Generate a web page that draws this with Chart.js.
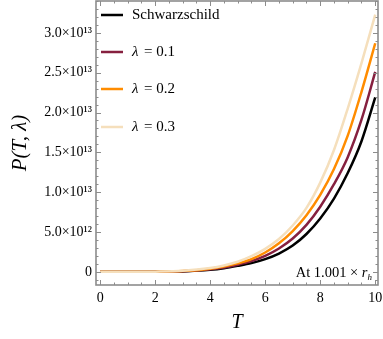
<!DOCTYPE html>
<html>
<head>
<meta charset="utf-8">
<script src="https://cdn.jsdelivr.net/npm/chart.js@4"></script>
<style>
  html, body { margin: 0; padding: 0; background: #fff; }
  #wrap { width: 383px; height: 339px; }
</style>
</head>
<body>
<div id="wrap"><canvas id="chart" width="383" height="339"></canvas></div>
<script>
// temperature values
const T = [0, 1, 2, 3, 4, 4.5, 5, 5.5, 6, 6.5, 7, 7.5, 8, 8.5, 9, 9.5, 10];
// P(T, lambda)
const schwarzschild = [0, 0, 0.01e12, 0.06e12, 0.25e12, 0.45e12, 0.75e12, 1.1e12, 1.6e12, 2.3e12, 3.3e12, 4.75e12, 6.7e12, 9.2e12, 12.4e12, 16.4e12, 21.9e12];
const lambda01 = [0, 0, 0.015e12, 0.08e12, 0.33e12, 0.56e12, 0.9e12, 1.35e12, 2.0e12, 2.93e12, 4.18e12, 5.89e12, 8.18e12, 11.0e12, 14.4e12, 19.1e12, 25.1e12];
const lambda02 = [0, 0, 0.02e12, 0.1e12, 0.4e12, 0.68e12, 1.07e12, 1.6e12, 2.43e12, 3.58e12, 5.12e12, 7.11e12, 9.66e12, 12.9e12, 17.1e12, 22.6e12, 28.7e12];
const lambda03 = [0, 0, 0.025e12, 0.13e12, 0.48e12, 0.8e12, 1.27e12, 1.97e12, 2.89e12, 4.12e12, 5.82e12, 8.03e12, 11.2e12, 15.3e12, 20.5e12, 26.2e12, 32.3e12];

const xTicks = [0, 2, 4, 6, 8, 10];
const yTicks = [0, 5e12, 10e12, 15e12, 20e12, 25e12, 30e12];

const seriesNames = ["Schwarzschild", "0.1", "0.2", "0.3"];
const seriesColors = ["#000000", "#86203f", "#ff8c00", "#f5dfbc"];
const seriesData = [schwarzschild, lambda01, lambda02, lambda03];

const serif = "'Liberation Serif', 'DejaVu Serif', serif";

function yLabel(v) {
    if (v === 0) return "0";
    if (Math.abs(v - 5e12) < 1) return "5.0\u00d710\u00b9\u00b2";
    return (v / 1e13).toFixed(1) + "\u00d710\u00b9\u00b3";
}

// frame, inward ticks, legend and note
const framePlugin = {
    id: "frame",
    afterDatasetsDraw(chart) {
        const ctx = chart.ctx;
        const a = chart.chartArea;
        const xs = chart.scales.x;
        const ys = chart.scales.y;
        ctx.save();
        ctx.strokeStyle = "#8c8c8c";
        ctx.lineWidth = 1;
        ctx.beginPath();
        for (let i = 0; i <= 20; i++) {
            const v = i * 0.5;
            const px = Math.round(xs.getPixelForValue(v)) + 0.5;
            const len = (i % 4 === 0) ? 5 : 2.5;
            ctx.moveTo(px, a.bottom); ctx.lineTo(px, a.bottom - len);
            ctx.moveTo(px, a.top); ctx.lineTo(px, a.top + len);
        }
        for (let i = -1; i <= 34; i++) {
            const v = i * 1e12;
            const py = Math.round(ys.getPixelForValue(v)) + 0.5;
            const len = (i % 5 === 0) ? 5 : 2.5;
            ctx.moveTo(a.left, py); ctx.lineTo(a.left + len, py);
            ctx.moveTo(a.right, py); ctx.lineTo(a.right - len, py);
        }
        ctx.stroke();
        ctx.lineWidth = 1.6;
        ctx.strokeRect(a.left, a.top, a.right - a.left, a.bottom - a.top);

        // legend
        ctx.textBaseline = "middle";
        const rowY = [15, 52, 89, 127];
        for (let i = 0; i < seriesNames.length; i++) {
            const y = rowY[i];
            ctx.strokeStyle = seriesColors[i];
            ctx.lineWidth = 2.5;
            ctx.beginPath();
            ctx.moveTo(101, y); ctx.lineTo(123, y);
            ctx.stroke();
            ctx.fillStyle = "#000";
            if (i === 0) {
                ctx.font = "15px " + serif;
                ctx.fillText(seriesNames[i], 132, y);
            } else {
                ctx.font = "italic 15px " + serif;
                ctx.fillText("\u03bb", 132, y);
                ctx.font = "15px " + serif;
                ctx.fillText(" = " + seriesNames[i], 132 + ctx.measureText("\u03bb").width + 1, y);
            }
        }

        // note in the bottom right corner
        ctx.fillStyle = "#000";
        ctx.textBaseline = "alphabetic";
        ctx.font = "italic 9px " + serif;
        const wh = ctx.measureText("h").width;
        ctx.font = "italic 14.5px " + serif;
        const wr = ctx.measureText("r").width;
        ctx.font = "14.5px " + serif;
        const txt = "At 1.001 \u00d7 ";
        const wt = ctx.measureText(txt).width;
        let x = a.right - 6 - wh - wr - wt;
        const by = a.bottom - 8;
        ctx.fillText(txt, x, by);
        x += wt;
        ctx.font = "italic 14.5px " + serif;
        ctx.fillText("r", x, by);
        x += wr;
        ctx.font = "italic 9px " + serif;
        ctx.fillText("h", x, by + 3);
        ctx.restore();
    }
};

const datasets = seriesData.map((d, i) => ({
    label: seriesNames[i],
    data: T.map((t, j) => ({ x: t, y: d[j] })),
    borderColor: seriesColors[i],
    borderWidth: 2.5,
    pointRadius: 0,
    fill: false,
    cubicInterpolationMode: "monotone"
})).reverse();

new Chart(document.getElementById("chart").getContext("2d"), {
    type: "line",
    data: { datasets: datasets },
    options: {
        responsive: false,
        animation: false,
        layout: { padding: { top: 1, right: 5, left: 0, bottom: 0 } },
        plugins: {
            legend: { display: false },
            tooltip: { enabled: false }
        },
        scales: {
            x: {
                type: "linear",
                min: -0.15,
                max: 10.1,
                grid: { display: false, drawTicks: false },
                border: { display: false },
                afterFit(scale) {
                    scale.height = 54;
                    scale.paddingLeft = 0;
                    scale.paddingRight = 0;
                },
                afterBuildTicks(scale) { scale.ticks = xTicks.map(v => ({ value: v })); },
                ticks: {
                    autoSkip: false,
                    maxRotation: 0,
                    padding: 5,
                    color: "#000",
                    font: { family: serif, size: 14 },
                    callback: v => String(v)
                },
                title: {
                    display: true,
                    text: "T",
                    color: "#000",
                    padding: { top: 6 },
                    font: { family: serif, size: 20, style: "italic" }
                }
            },
            y: {
                type: "linear",
                min: -1.65e12,
                max: 34.0e12,
                grid: { display: false, drawTicks: false },
                border: { display: false },
                afterFit(scale) {
                    scale.width = 96;
                    scale.paddingTop = 0;
                    scale.paddingBottom = 0;
                },
                afterBuildTicks(scale) { scale.ticks = yTicks.map(v => ({ value: v })); },
                ticks: {
                    autoSkip: false,
                    padding: 4,
                    color: "#000",
                    font: { family: serif, size: 14 },
                    callback: v => yLabel(v)
                },
                title: {
                    display: true,
                    text: "P(T, \u03bb)",
                    color: "#000",
                    padding: { top: 8, bottom: 0 },
                    font: { family: serif, size: 21, style: "italic" }
                }
            }
        }
    },
    plugins: [framePlugin]
});
</script>
</body>
</html>
